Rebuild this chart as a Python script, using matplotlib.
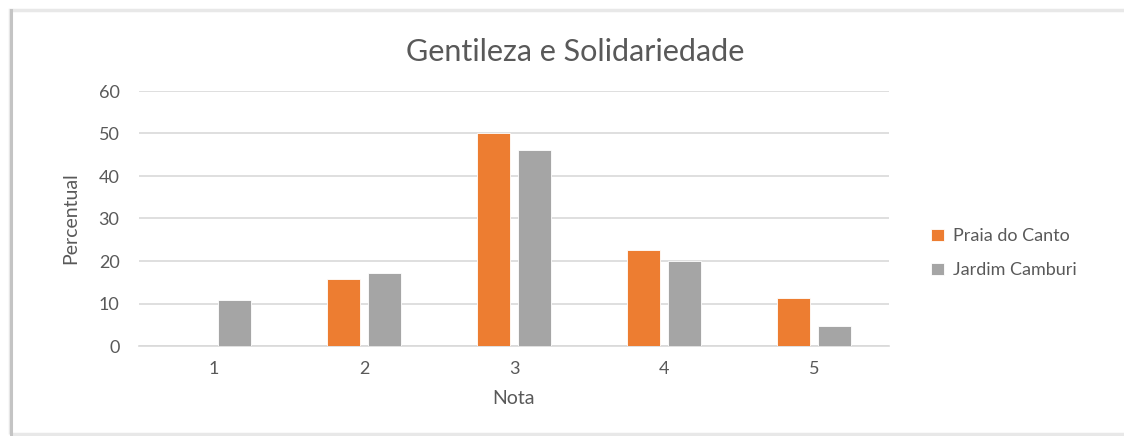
import numpy as np
import matplotlib
matplotlib.use("Agg")
import matplotlib.pyplot as plt
from matplotlib.patches import Rectangle
from matplotlib.lines import Line2D

plt.rcParams['font.family'] = ['Lato', 'DejaVu Sans']

notas = ["1", "2", "3", "4", "5"]
praia_do_canto = [0, 15.8, 50.0, 22.7, 11.4]
jardim_camburi = [10.9, 17.2, 46.1, 20.0, 4.7]
series_names = ["Praia do Canto", "Jardim Camburi"]
yticks = [0, 10, 20, 30, 40, 50, 60]

ORANGE = "#ED7D31"
GRAY = "#A5A5A5"
TEXT = "#595959"

fig = plt.figure(figsize=(11.24, 4.36), dpi=100)
fig.patch.set_facecolor("white")

# chart frame with a soft shadow on the left/top
fig.patches.append(Rectangle((10 / 1124, 2 / 436), 1120 / 1124, 424 / 436,
                             transform=fig.transFigure, fill=False,
                             edgecolor="#e8e8e8", linewidth=2.5, zorder=0))
fig.add_artist(Line2D([11 / 1124, 11 / 1124], [2 / 436, 426 / 436],
                      transform=fig.transFigure, color="#c4c4c4", linewidth=2.2))

ax = fig.add_axes([139 / 1124, 1 - 346 / 436, 750 / 1124, 255 / 436])

x = np.arange(1, len(notas) + 1)
w = 0.223
off = 0.138
ax.bar(x - off, praia_do_canto, width=w, color=ORANGE, edgecolor="white",
       linewidth=0.6, label=series_names[0], zorder=3)
ax.bar(x + off, jardim_camburi, width=w, color=GRAY, edgecolor="white",
       linewidth=0.6, label=series_names[1], zorder=3)

ax.set_xlim(0.5, 5.5)
ax.set_ylim(0, 60)
ax.set_yticks(yticks)
ax.set_xticks(x)
ax.set_xticklabels(notas)

ax.grid(axis="y", color="#d9d9d9", linewidth=1.2, zorder=0)
for s in ["top", "right", "left"]:
    ax.spines[s].set_visible(False)
ax.spines["bottom"].set_color("#d9d9d9")
ax.spines["bottom"].set_linewidth(1.2)
ax.tick_params(axis="both", length=0, labelsize=13, colors=TEXT)
ax.tick_params(axis="y", pad=14)
ax.tick_params(axis="x", pad=11)

ax.set_xlabel("Nota", fontsize=14, color=TEXT, labelpad=9)
ax.set_ylabel("Percentual", fontsize=14, color=TEXT, labelpad=14)
fig.text(575 / 1124, 1 - 52 / 436, "Gentileza e Solidariedade", fontsize=22,
         color=TEXT, ha="center", va="center")

leg = fig.legend(loc="upper left", bbox_to_anchor=(915 / 1124, 1 - 212 / 436),
                 frameon=False, fontsize=13, handlelength=0.7, handleheight=0.7,
                 handletextpad=0.5, labelspacing=1.0)
for t in leg.get_texts():
    t.set_color(TEXT)

fig.savefig("out.png", dpi=100, facecolor="white")
